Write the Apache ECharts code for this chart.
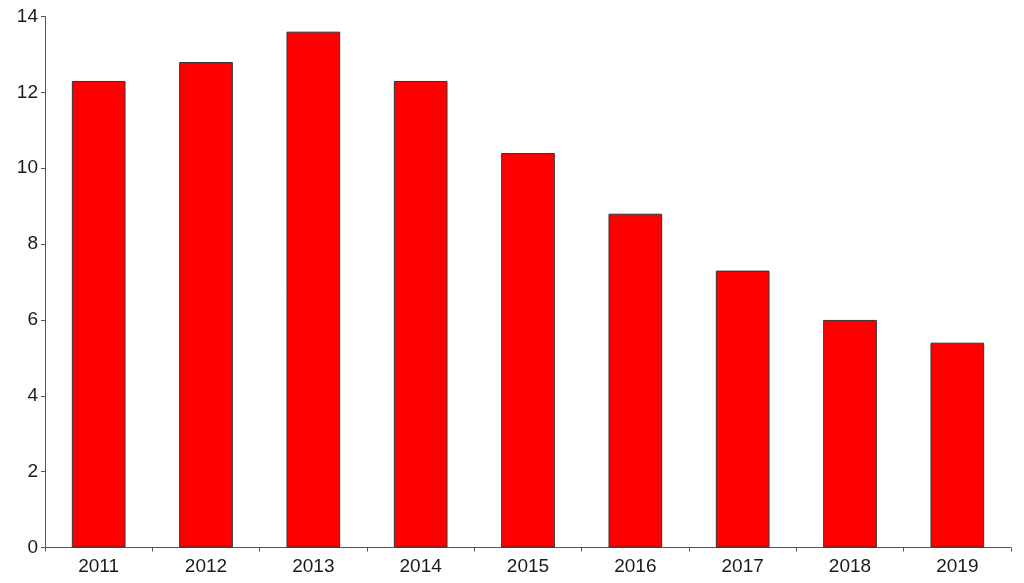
<!DOCTYPE html>
<html>
<head>
<meta charset="utf-8">
<script src="https://cdn.jsdelivr.net/npm/echarts@6/dist/echarts.min.js"></script>
<style>html,body{margin:0;padding:0;background:#fff}#c{width:1024px;height:583px}</style>
</head>
<body>
<div id="c"></div>
<script>
const categories = ['2011','2012','2013','2014','2015','2016','2017','2018','2019'];
const values = [12.3, 12.8, 13.6, 12.3, 10.4, 8.8, 7.3, 6.0, 5.4];
const yTicks = {min: 0, max: 14, interval: 2};

const chart = echarts.init(document.getElementById('c'), null, {renderer: 'canvas'});
chart.setOption({
  animation: false,
  backgroundColor: '#ffffff',
  grid: {left: 45, right: 13, top: 16.5, bottom: 35.5, containLabel: false},
  xAxis: {
    type: 'category',
    data: categories,
    boundaryGap: true,
    axisLine: {show: true, lineStyle: {color: '#555', width: 1}},
    axisTick: {show: true, alignWithLabel: false, length: 4, lineStyle: {color: '#555'}},
    axisLabel: {color: '#1a1a1a', fontSize: 19, fontFamily: 'Liberation Sans, Arial, sans-serif', margin: 10},
    splitLine: {show: false}
  },
  yAxis: {
    type: 'value',
    min: yTicks.min, max: yTicks.max, interval: yTicks.interval,
    axisLine: {show: true, lineStyle: {color: '#555', width: 1}},
    axisTick: {show: true, length: 4, lineStyle: {color: '#555'}},
    axisLabel: {color: '#1a1a1a', fontSize: 19, fontFamily: 'Liberation Sans, Arial, sans-serif', margin: 7},
    splitLine: {show: false}
  },
  series: [{
    type: 'bar',
    data: values,
    barWidth: '50%',
    itemStyle: {color: '#ff0000', borderColor: '#333', borderWidth: 1}
  }]
});
</script>
</body>
</html>
